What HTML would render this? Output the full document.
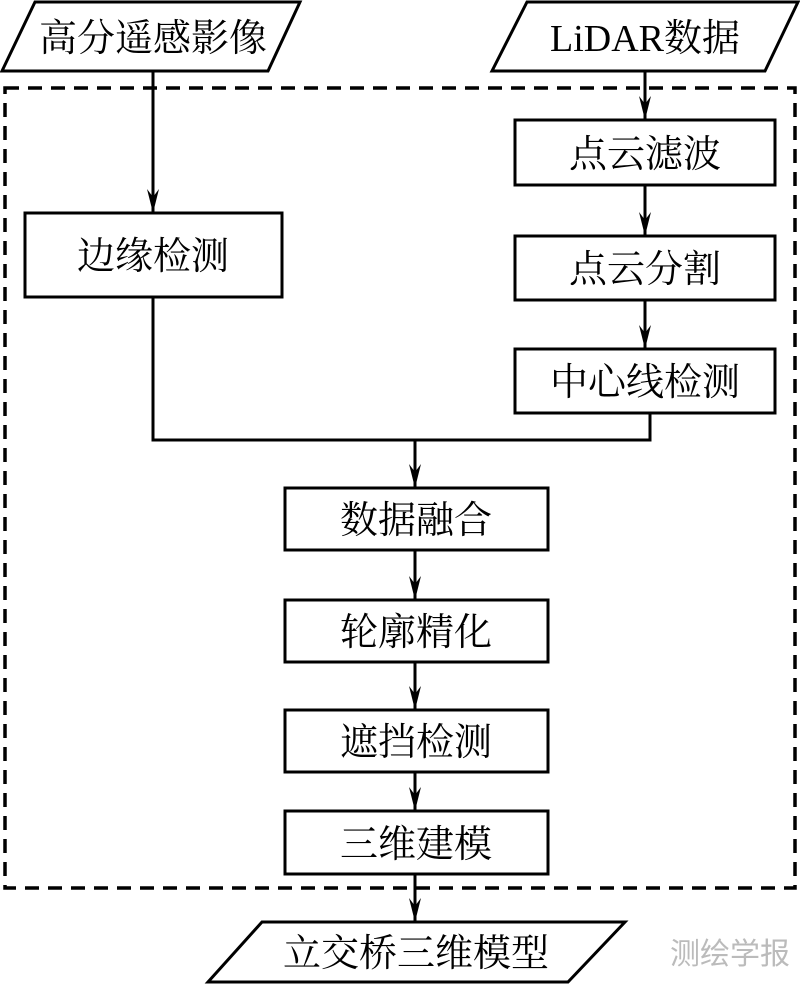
<!DOCTYPE html>
<html><head><meta charset="utf-8"><style>
body{margin:0;background:#fff;width:800px;height:984px;overflow:hidden}
text{font-family:"Liberation Serif","Noto Serif CJK SC",serif;font-size:38px;fill:#000}
</style></head><body>
<svg width="800" height="984" viewBox="0 0 800 984">
<defs><marker id="a" markerWidth="24" markerHeight="12" refX="24" refY="6" orient="auto" markerUnits="userSpaceOnUse" viewBox="0 0 24 12"><path d="M0,0 L24,6 L0,12 L8,6 Z" fill="#000"/></marker></defs>
<g fill="none" stroke="#000" stroke-width="3">
<rect x="5" y="88" width="790" height="800" stroke-dasharray="14,9" stroke-width="3.5"/>
<polygon points="35,2 300,2 268,71 2,71" fill="#fff"/>
<polygon points="527,2 798,2 765,71 492,71" fill="#fff"/>
<rect x="25" y="213" width="257" height="84" fill="#fff"/>
<rect x="515" y="120" width="260" height="65" fill="#fff"/>
<rect x="515" y="236" width="260" height="64" fill="#fff"/>
<rect x="515" y="349" width="260" height="64" fill="#fff"/>
<rect x="285" y="488" width="263" height="62" fill="#fff"/>
<rect x="285" y="600" width="263" height="62" fill="#fff"/>
<rect x="285" y="710" width="263" height="62" fill="#fff"/>
<rect x="285" y="811" width="263" height="63" fill="#fff"/>
<polygon points="262,922 625,922 568,982 208,982" fill="#fff"/>
<line x1="153" y1="71" x2="153" y2="213" marker-end="url(#a)"/>
<line x1="645" y1="71" x2="645" y2="120" marker-end="url(#a)"/>
<line x1="645" y1="185" x2="645" y2="236" marker-end="url(#a)"/>
<line x1="645" y1="300" x2="645" y2="349" marker-end="url(#a)"/>
<polyline points="153,297 153,440 650,440 650,413"/>
<line x1="415" y1="440" x2="415" y2="488" marker-end="url(#a)"/>
<line x1="415" y1="550" x2="415" y2="600" marker-end="url(#a)"/>
<line x1="415" y1="662" x2="415" y2="710" marker-end="url(#a)"/>
<line x1="415" y1="772" x2="415" y2="811" marker-end="url(#a)"/>
<line x1="415" y1="874" x2="415" y2="922" marker-end="url(#a)"/>
</g>
<g text-anchor="middle">
<text x="153" y="51">高分遥感影像</text>
<text x="645" y="51">LiDAR数据</text>
<text x="153" y="269">边缘检测</text>
<text x="645" y="167">点云滤波</text>
<text x="645" y="282">点云分割</text>
<text x="645" y="395">中心线检测</text>
<text x="416" y="533">数据融合</text>
<text x="416" y="645">轮廓精化</text>
<text x="416" y="755">遮挡检测</text>
<text x="416" y="857">三维建模</text>
<text x="416" y="966">立交桥三维模型</text>
<text x="730" y="964" style="font-family:'Liberation Sans','Noto Sans CJK SC',sans-serif;font-size:30px;fill:#bbb">测绘学报</text>
</g>
</svg>
</body></html>
